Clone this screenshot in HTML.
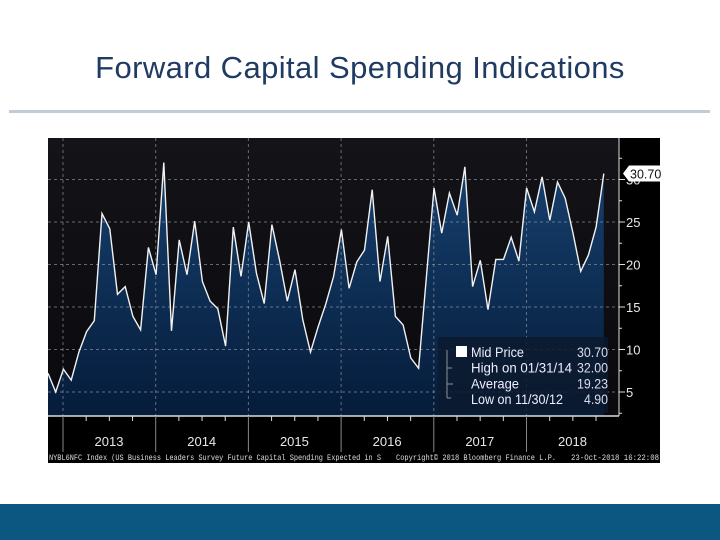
<!DOCTYPE html>
<html><head><meta charset="utf-8">
<style>
html,body{margin:0;padding:0;width:720px;height:540px;overflow:hidden;background:#fff;font-family:"Liberation Sans",sans-serif;}
#title{position:absolute;left:0;top:50px;width:720px;text-align:center;font-size:31px;color:#1f3b63;letter-spacing:0.4px;}
#rule{position:absolute;left:9px;top:110px;width:701px;height:3px;background:#c1ccd9;}
#bar{position:absolute;left:0;top:504px;width:720px;height:36px;background:#0b5781;}
svg{position:absolute;left:0;top:0;}
</style></head><body>
<div id="title">Forward Capital Spending Indications</div>
<div id="rule"></div>
<svg id="chart" width="720" height="540"></svg>
<div id="bar"></div>
<script>
const values = [7.2,5.0,7.7,6.4,9.7,12.1,13.4,26.0,24.2,16.5,17.4,13.9,12.3,22.0,18.8,32.0,12.2,22.9,18.8,25.1,18.0,15.7,14.8,10.4,24.4,18.6,25.0,19.0,15.4,24.7,20.5,15.7,19.4,13.5,9.7,12.7,15.4,18.6,24.1,17.2,20.3,
21.7,28.8,18.0,23.3,13.9,12.9,9.0,7.8,18.4,29.0,23.7,28.4,25.8,31.5,17.4,20.5,14.7,20.6,20.6,23.2,20.4,29.0,26.2,30.3,25.2,29.7,27.8,23.7,19.2,21.1,24.4,30.7];
const yTicks = [5,10,15,20,25,30];
const years = ["2013","2014","2015","2016","2017","2018"];
const legendLabels = ["Mid Price","High on 01/31/14","Average","Low on 11/30/12"];
const legendValues = ["30.70","32.00","19.23","4.90"];

const NS="http://www.w3.org/2000/svg";
const svg=document.getElementById('chart');
function mk(t,a,p){const e=document.createElementNS(NS,t);for(const k in a)e.setAttribute(k,a[k]);(p||svg).appendChild(e);return e;}
const X0=48,X1=619,YT=138,YB=416;
const step=7.72;
const x=i=>X0+i*step;
const y=v=>392-(v-5)*8.5;
const yearX=i=>63+i*92.7;

let e;
e=mk('rect',{x:48,y:138,width:612,height:325,fill:'#000'});


const defs=mk('defs',{});
const g1=mk('linearGradient',{id:'bg',x1:0,y1:0,x2:0,y2:1},defs);
mk('stop',{offset:0,'stop-color':'#141418'},g1);mk('stop',{offset:1,'stop-color':'#0a0a0e'},g1);
const g2=mk('linearGradient',{id:'fill',x1:0,y1:0,x2:0,y2:1},defs);
mk('stop',{offset:0,'stop-color':'#17406e'},g2);mk('stop',{offset:1,'stop-color':'#051c3a'},g2);
e=mk('rect',{x:X0,y:YT,width:X1-X0,height:YB-YT,fill:'url(#bg)'});



let d='M'+x(0)+','+YB;
values.forEach((v,i)=>{d+=' L'+x(i).toFixed(1)+','+y(v).toFixed(1);});
d+=' L'+x(values.length-1).toFixed(1)+','+YB+' Z';
e=mk('path',{d:d,fill:'url(#fill)'});



yTicks.forEach(t=>{
  e=mk('line',{x1:X0,x2:X1,y1:y(t),y2:y(t),stroke:'#8a8f99','stroke-width':1,'stroke-dasharray':'3,3',opacity:0.7});
  
  
});
years.forEach((yr,i)=>{
  e=mk('line',{x1:yearX(i),x2:yearX(i),y1:YT,y2:YB,stroke:'#8a8f99','stroke-width':1,'stroke-dasharray':'3,3',opacity:0.7});
  
  
});

let ld='';
values.forEach((v,i)=>{ld+=(i?' L':'M')+x(i).toFixed(1)+','+y(v).toFixed(1);});
e=mk('path',{d:ld,fill:'none',stroke:'#f2f2f2','stroke-width':1.4});



e=mk('line',{x1:X0,x2:X1,y1:YB,y2:YB,stroke:'#ddd','stroke-width':1.5});


e=mk('line',{x1:X1,x2:X1,y1:YT,y2:YB,stroke:'#ddd','stroke-width':1});


for(let q=-1;q<=24;q++){
  const xx=63+q*92.7/4;
  if(xx<X0||xx>X1)continue;
  const big=(q%4===0);
  mk('line',{x1:xx,x2:xx,y1:YB,y2:YB+(big?36:5),stroke:big?'#888':'#ddd','stroke-width':1});
}
years.forEach((yr,i)=>{
  e=mk('text',{x:yearX(i)+46,y:446,fill:'#e8e8e8','font-size':13,'text-anchor':'middle'});
  e.textContent=yr;
  
  
});
for(let v=2.5;v<=32.5;v+=2.5){
  const yy=y(v); if(yy<YT||yy>YB)continue;
  mk('line',{x1:X1,x2:X1+(v%5===0?6:3),y1:yy,y2:yy,stroke:'#ddd','stroke-width':1});
}
yTicks.forEach(t=>{
  e=mk('text',{x:X1+7,y:y(t)+5,fill:'#e8e8e8','font-size':13});
  e.textContent=t;
  
  
});
const lv=values[values.length-1];
e=mk('path',{d:`M${X1+4},${y(lv)} L${X1+10},${y(lv)-8} L${X1+44},${y(lv)-8} L${X1+44},${y(lv)+8} L${X1+10},${y(lv)+8} Z`,fill:'#fff'});


e=mk('text',{x:X1+11,y:y(lv)+5,fill:'#111','font-size':12.5});
e.textContent=lv.toFixed(2);



e=mk('rect',{x:438,y:337,width:170,height:76,fill:'#0c1a2e',opacity:0.85,rx:2});


mk('rect',{x:456,y:346,width:11,height:11,fill:'#fff'});
mk('path',{d:'M447,350 V398 M447,368 h5 M447,384 h6 M447,398 h4',stroke:'#8a93a0',fill:'none','stroke-width':1});
const labW=[53,101,48,92];
const valW=[31,31,31,24];
legendLabels.forEach((l,i)=>{
  const yy=357+i*15.7;
  e=mk('text',{x:471,y:yy,fill:'#eef','font-size':13.5,textLength:labW[i],lengthAdjust:'spacingAndGlyphs'});
  e.textContent=l;
  
  
  e=mk('text',{x:608-valW[i],y:yy,fill:'#dde','font-size':13.5,textLength:valW[i],lengthAdjust:'spacingAndGlyphs'});
  e.textContent=legendValues[i];
  
  
});
const mono={fill:'#ddd','font-size':8,'font-family':'Liberation Mono, monospace',lengthAdjust:'spacingAndGlyphs'};
e=mk('text',Object.assign({x:49,y:460,textLength:332},mono));
e.textContent='NYBL6NFC Index (US Business Leaders Survey Future Capital Spending Expected in S';


e=mk('text',Object.assign({x:396,y:460,textLength:160},mono));
e.textContent='Copyright© 2018 Bloomberg Finance L.P.';


e=mk('text',Object.assign({x:571,y:460,textLength:88},mono));
e.textContent='23-Oct-2018 16:22:08';


</script>
</body></html>
